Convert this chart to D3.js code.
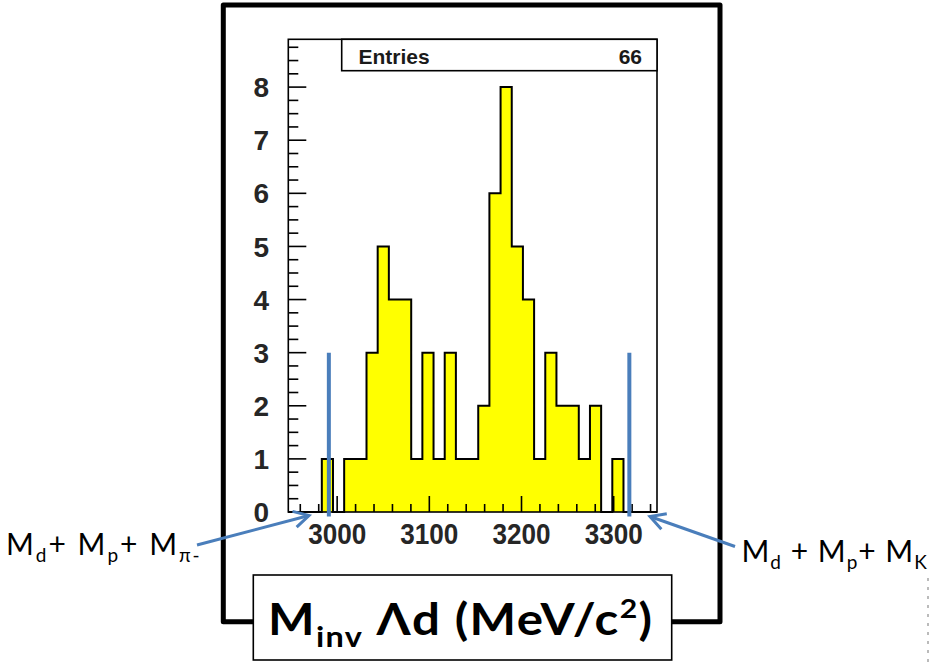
<!DOCTYPE html>
<html>
<head>
<meta charset="utf-8">
<script src="https://cdn.jsdelivr.net/npm/d3@7"></script>
<style>
  html, body { margin: 0; padding: 0; background: #fff; }
  svg { display: block; }
</style>
</head>
<body>
<svg id="chart" width="932" height="664"></svg>
<script>
// Invariant mass of Lambda-d pairs: counts per bin
const histRange = [2947, 3347];
const counts = [0, 0, 0, 1, 0, 1, 1, 3, 5, 4, 4, 1, 3, 1, 3, 1, 1, 2, 6, 8, 5, 4, 1, 3, 2, 2, 1, 2, 0, 1, 0, 0, 0];
const entries = 66;
const yMax = 8.9;
const xTickLabels = [3000, 3100, 3200, 3300];
const yTickLabels = [0, 1, 2, 3, 4, 5, 6, 7, 8];
// Kinematic thresholds marked with vertical lines (MeV/c^2) and the line height (counts)
const thresholdMasses = [2991, 3317];
const thresholdTop = 3;

const svg = d3.select("#chart");
const blue = "#4a7ebb";
const rootFont = "'Liberation Sans', Arial, sans-serif";

const x = d3.scaleLinear().domain(histRange).range([288.3, 657]);
const y = d3.scaleLinear().domain([0, yMax]).range([512, 39.3]);

const nBins = counts.length;
const bw = (histRange[1] - histRange[0]) / nBins;
const bins = counts.map((c, i) => ({ x0: histRange[0] + i * bw, x1: histRange[0] + (i + 1) * bw, c }));

// outer thick frame around the plot, opening onto the axis-title box
svg.append("path")
  .attr("d", "M253.3,621.7 H223.3 V5 H720 V621.7 H671.7")
  .attr("fill", "none").attr("stroke", "#000").attr("stroke-width", 5)
  .attr("stroke-linejoin", "round");

// histogram body and step outline
const area = d3.area().curve(d3.curveStepAfter).x(d => x(d.x)).y0(y(0)).y1(d => y(d.c));
const stepPts = bins.map(b => ({ x: b.x0, c: b.c })).concat([{ x: histRange[1], c: 0 }]);
svg.append("path").datum(stepPts).attr("d", area).attr("fill", "#ffff00").attr("stroke", "none");
const line = d3.line().curve(d3.curveStepAfter).x(d => x(d.x)).y(d => y(d.c));
svg.append("path").datum([{ x: histRange[0], c: 0 }].concat(stepPts))
  .attr("d", line).attr("fill", "none").attr("stroke", "#000").attr("stroke-width", 2);

// tick marks drawn inside the frame
const g = svg.append("g").attr("stroke", "#000").attr("stroke-width", 1.6);
d3.range(0, yMax, 0.25).forEach(v => {
  const major = Math.abs(v - Math.round(v)) < 1e-6;
  g.append("line").attr("x1", x.range()[0]).attr("x2", x.range()[0] + (major ? 18 : 10))
    .attr("y1", y(v)).attr("y2", y(v));
});
d3.range(2960, histRange[1], 20).forEach(v => {
  const major = v % 100 === 0;
  g.append("line").attr("x1", x(v)).attr("x2", x(v))
    .attr("y1", y(0)).attr("y2", y(0) - (major ? 16 : 8));
});

// plot frame
svg.append("rect")
  .attr("x", x.range()[0]).attr("y", y.range()[1])
  .attr("width", x.range()[1] - x.range()[0]).attr("height", y.range()[0] - y.range()[1])
  .attr("fill", "none").attr("stroke", "#000").attr("stroke-width", 1.6);

// axis labels
svg.append("g").selectAll("text").data(yTickLabels).join("text")
  .attr("x", 269).attr("y", d => y(d)).attr("dy", "0.36em")
  .attr("text-anchor", "end")
  .style("font", `bold 28px ${rootFont}`).attr("fill", "#262626")
  .text(d => d);
svg.append("g").selectAll("text").data(xTickLabels).join("text")
  .attr("transform", d => `translate(${x(d)},544.3) scale(0.9,1)`)
  .attr("text-anchor", "middle")
  .style("font", `bold 29px ${rootFont}`).attr("fill", "#262626")
  .text(d => d);

// statistics box
svg.append("rect").attr("x", 341.7).attr("y", y.range()[1]).attr("width", x.range()[1] - 341.7).attr("height", 31.4)
  .attr("fill", "#fff").attr("stroke", "#000").attr("stroke-width", 1.6);
svg.append("text").attr("x", 358.5).attr("y", 63.5)
  .style("font", `bold 21px ${rootFont}`).attr("fill", "#1a1a1a").text("Entries");
svg.append("text").attr("x", 642).attr("y", 63.5).attr("text-anchor", "end")
  .style("font", `bold 21px ${rootFont}`).attr("fill", "#1a1a1a").text(entries);

// threshold lines
svg.append("g").selectAll("line").data(thresholdMasses).join("line")
  .attr("x1", d => x(d)).attr("x2", d => x(d))
  .attr("y1", y(thresholdTop)).attr("y2", y(0) + 4.5)
  .attr("stroke", blue).attr("stroke-width", 4);

// arrows pointing from the threshold labels to the axis ends
function arrow(x1, y1, x2, y2) {
  const a = Math.atan2(y2 - y1, x2 - x1), L = 17, s = 0.5;
  svg.append("line").attr("x1", x1).attr("y1", y1).attr("x2", x2).attr("y2", y2)
    .attr("stroke", blue).attr("stroke-width", 3);
  svg.append("path")
    .attr("d", `M${x2 - L * Math.cos(a - s)},${y2 - L * Math.sin(a - s)} L${x2},${y2} L${x2 - L * Math.cos(a + s)},${y2 - L * Math.sin(a + s)}`)
    .attr("fill", "none").attr("stroke", blue).attr("stroke-width", 3).attr("stroke-linejoin", "miter");
}
arrow(197, 545, 309, 515.5);
arrow(735, 546.5, 650, 516.5);

// threshold labels
const labelFont = "Lato, 'Open Sans', sans-serif";
function massLabel(xp, yp, spacing, parts) {
  const t = svg.append("text").attr("x", xp).attr("y", yp)
    .style("font-family", labelFont).style("font-size", "30px")
    .style("letter-spacing", spacing + "px").attr("fill", "#000");
  parts.forEach(p => {
    t.append("tspan").attr("font-size", p.sub ? 19 : 30).attr("dy", p.dy || 0).text(p.t);
  });
}
massLabel(6, 555, 2, [
  { t: "M" }, { t: "d", sub: true, dy: 7 }, { t: "+ M", dy: -7 }, { t: "p", sub: true, dy: 7 },
  { t: "+ M", dy: -7 }, { t: "π-", sub: true, dy: 7 }
]);
massLabel(741.5, 561.5, 1, [
  { t: "M" }, { t: "d", sub: true, dy: 7 }, { t: " + M", dy: -7 }, { t: "p", sub: true, dy: 7 },
  { t: "+ M", dy: -7 }, { t: "K", sub: true, dy: 7 }
]);

// axis title box
svg.append("rect").attr("x", 253.3).attr("y", 575).attr("width", 418.4).attr("height", 85)
  .attr("fill", "#fff").attr("stroke", "#000").attr("stroke-width", 1.6);
const title = svg.append("text").attr("transform", "translate(268,635) scale(1.12,1)")
  .style("font-family", labelFont).style("font-weight", "bold").style("font-size", "44px")
  .style("letter-spacing", "1.2px").attr("fill", "#000");
title.append("tspan").text("M");
title.append("tspan").attr("font-size", 29).attr("dy", 12).text("inv");
title.append("tspan").attr("dy", -12).text(" Λd (MeV/c");
title.append("tspan").attr("font-size", 27).attr("dy", -17).text("2");
title.append("tspan").attr("dy", 17).text(")");

// faint mark at the right edge
svg.append("line").attr("x1", 928).attr("x2", 928).attr("y1", 578).attr("y2", 664)
  .attr("stroke", "#bbb").attr("stroke-width", 2).attr("stroke-dasharray", "3,6");
</script>
</body>
</html>
